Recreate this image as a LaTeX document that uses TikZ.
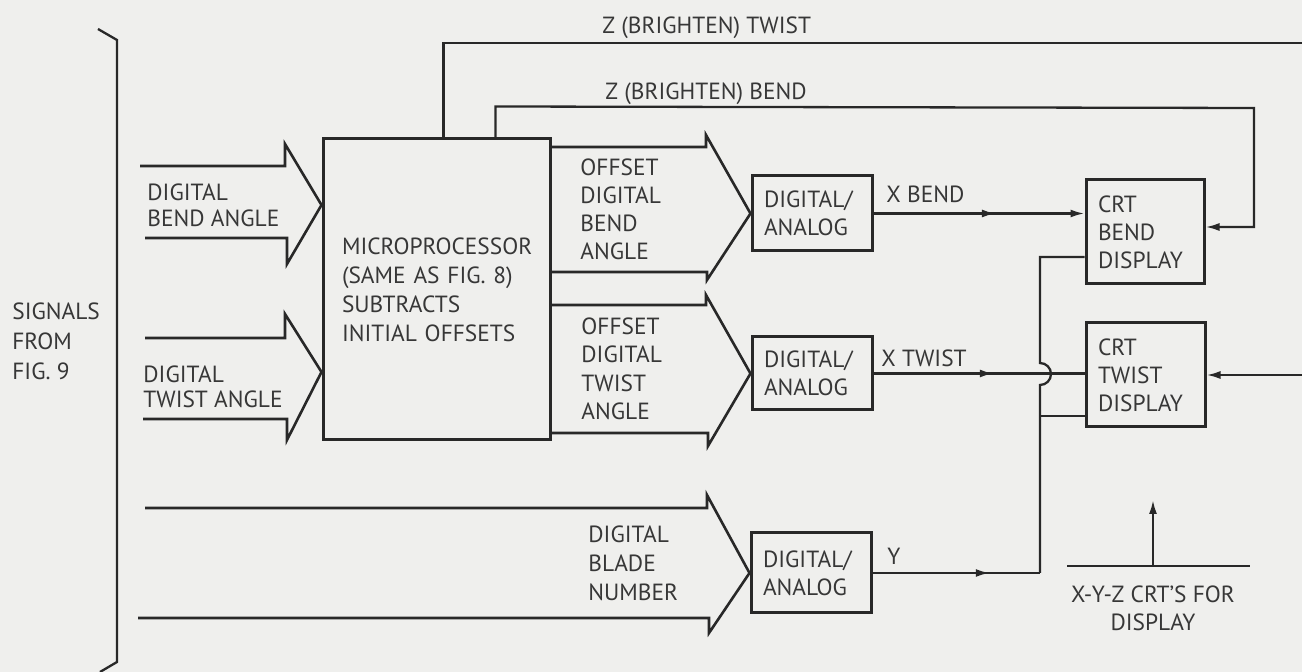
\documentclass[tikz,border=0pt]{standalone}
\usepackage{fontspec}
\setmainfont{PT Sans}
\usetikzlibrary{arrows.meta,decorations.markings,calc}
\definecolor{bg}{RGB}{239,239,237}
\definecolor{ink}{RGB}{40,40,40}
\definecolor{txt}{RGB}{55,55,55}
\newcommand{\fs}{11.7}
\newcommand{\lbfont}{\fontsize{\fs}{14}\selectfont}
\tikzset{
  ln/.style={draw=ink, line width=1.15pt, line join=miter},
  fat/.style={draw=ink, line width=1.3pt, line join=miter},
  boxn/.style={draw=ink, line width=1.5pt, align=left, text=txt, font=\lbfont, inner ysep=0pt},
  lbl/.style={text=txt, font=\lbfont, align=left, inner sep=0pt, anchor=north west},
  tip/.style={-{Latex[length=7pt,width=4pt]}},
  midarr/.style={postaction=decorate, decoration={markings, mark=at position #1 with {\arrow{Latex[length=7pt,width=4pt]}}}},
}
\begin{document}
\begin{tikzpicture}[x=0.5pt,y=-0.5pt]
\useasboundingbox (0,0) rectangle (1302,672);
\fill[bg] (0,0) rectangle (1302,672);

% bracket
\draw[ln] (98,29) -- (117,40) -- (117,662) -- (100,672);
\node[lbl, font=\fontsize{\fs}{15}\selectfont] (sig) at (12,302) {SIGNALS\\FROM\\FIG. 9};

% boxes
\node[boxn, text width=94.5pt, inner xsep=9.5pt, minimum height=150.5pt, font=\fontsize{\fs}{14.5}\selectfont] (mp) at (436.5,289.5)
  {MICROPROCESSOR\\(SAME AS FIG. 8)\\SUBTRACTS\\INITIAL OFFSETS};
\node[boxn, text width=48pt, inner xsep=6pt, minimum height=37.5pt] (da1) at (812,213.5) {DIGITAL/\\ANALOG};
\node[boxn, text width=48pt, inner xsep=6pt, minimum height=36.5pt] (da2) at (812,373.5) {DIGITAL/\\ANALOG};
\node[boxn, text width=48pt, inner xsep=6pt, minimum height=40pt] (da3) at (811,573) {DIGITAL/\\ANALOG};
\node[boxn, text width=47pt, inner xsep=6pt, minimum height=52pt] (crtb) at (1145,232) {CRT\\BEND\\DISPLAY};
\node[boxn, text width=47.5pt, inner xsep=6pt, minimum height=52pt] (crtt) at (1145.5,375) {CRT\\TWIST\\DISPLAY};

% fat input arrows
\draw[fat] (140,166) -- (285,166) -- (285,144) -- (mp.west |- 0,205) -- (287,264) -- (287,238) -- (145,238);
\draw[fat] (145,338) -- (285,338) -- (285,314) -- (mp.west |- 0,372) -- (287,440) -- (287,419) -- (143,419);
\draw[fat] (145,508) -- (707,508) -- (707,495) -- (da3.west) -- (709,633) -- (709,618) -- (138,618);
\draw[fat] (mp.east |- 0,147) -- (706,147) -- (706,135) -- (da1.west) -- (707,280) -- (707,272) -- (mp.east |- 0,272);
\draw[fat] (mp.east |- 0,305) -- (706,305) -- (706,295) -- (da2.west) -- (708,446) -- (708,433) -- (mp.east |- 0,433);

\node[lbl, font=\fontsize{\fs}{13}\selectfont] (dba) at (147,183) {DIGITAL\\BEND ANGLE};
\node[lbl, font=\fontsize{\fs}{12.5}\selectfont] (dta) at (143,365) {DIGITAL\\TWIST ANGLE};
\node[lbl] (odba) at (580,158) {OFFSET\\DIGITAL\\BEND\\ANGLE};
\node[lbl, font=\fontsize{\fs}{14.3}\selectfont] (odta) at (581,317) {OFFSET\\DIGITAL\\TWIST\\ANGLE};
\node[lbl, font=\fontsize{\fs}{14.5}\selectfont] (dbn) at (588,525) {DIGITAL\\BLADE\\NUMBER};

% signal lines
\node[lbl] (xb) at (886,185) {X BEND};
\node[lbl] (xt) at (881,349) {X TWIST};
\node[lbl] (yl) at (887,548) {Y};
\draw[ln, tip, midarr=0.58] (da1.east) -- (da1.east -| crtb.west);
\draw[ln, midarr=0.57] (da2.east) -- (da2.east -| crtt.west);

\coordinate (bus) at (1040,0);
\coordinate (yb1) at (1040,257);
\coordinate (yb2) at (1040,416);
\coordinate (hopb) at (1040,385);
\draw[ln, midarr=0.70] (da3.east) -- (da3.east -| bus);
\draw[ln] (da3.east -| bus) -- (hopb) arc[start angle=-90, end angle=90, radius=5.5pt] -- (yb1) -- (yb1 -| crtb.west);
\draw[ln] (yb2) -- (yb2 -| crtt.west);

% Z (brighten) lines
\coordinate (zb0) at ($(mp.north west)+(174,0)$);
\coordinate (zbR) at (1254,227);
\draw[ln, tip] (zb0) -- ++(0,-31) -- (1254,108) -- (zbR) -- (zbR -| crtb.east);
\node[lbl] (zbl) at (605,82) {Z (BRIGHTEN) BEND};

\coordinate (zt0) at ($(mp.north west)+(122,0)$);
\coordinate (ztT) at (1302,43);
\coordinate (ztR) at (1302,375);
\draw[ln] (zt0) -- (zt0 |- ztT) -- (ztT);
\draw[ln, tip] (ztR) -- (ztR -| crtt.east);
\node[lbl] (ztl) at (602,16) {Z (BRIGHTEN) TWIST};

% display note
\coordinate (xyzL) at (1067,566);
\coordinate (xyzR) at (1250,566);
\coordinate (xyzM) at (1153,566);
\coordinate (xyzT) at (1153,500);
\draw[ln] (xyzL) -- (xyzR);
\draw[ln, tip] (xyzM) -- (xyzT);
\node[lbl, anchor=north, align=center] (xyz) at (1153,585) {X-Y-Z CRT'S FOR\\DISPLAY};
\end{tikzpicture}
\end{document}
